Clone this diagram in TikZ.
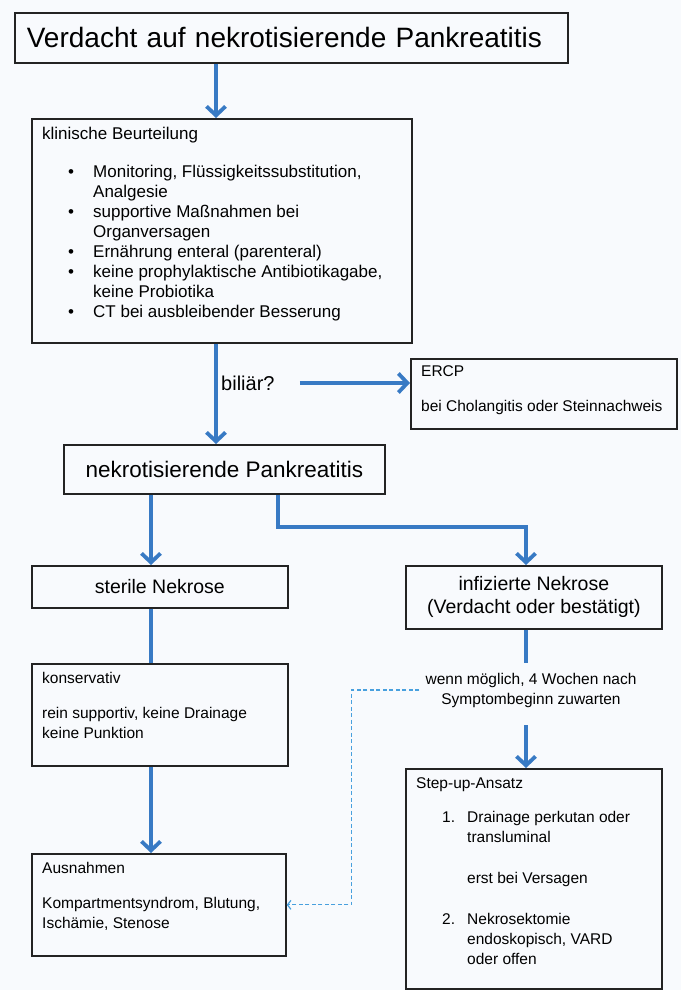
\documentclass[tikz,border=0pt]{standalone}
\usepackage{fontspec}
\setmainfont{Liberation Sans}
\usepackage{tikz}
\usetikzlibrary{arrows.meta,positioning}

\definecolor{arrblue}{RGB}{56,122,196}
\definecolor{dashblue}{RGB}{72,160,222}
\definecolor{boxgray}{RGB}{35,35,35}
\definecolor{bg}{RGB}{248,250,253}

\newcommand{\bulitem}{\makebox[51pt][l]{\hspace{26pt}\textbullet}}
\newcommand{\bulcont}{\makebox[51pt]{}}
\newcommand{\numitem}[1]{\makebox[51pt][l]{\hspace{26pt}#1}}

\begin{document}
\begin{tikzpicture}[x=1pt,y=-1pt,
  >={Straight Barb[length=9pt,width=19pt]},
  box/.style={draw=boxgray,line width=1.7pt,fill=bg,inner sep=0pt,anchor=north west},
  txt/.style={inner sep=0pt,align=left,anchor=north west,font=\fontsize{15.5}{20}\selectfont},
  arr/.style={->,draw=arrblue,line width=3.8pt},
  plain/.style={draw=arrblue,line width=3.8pt},
  dasharr/.style={-{Straight Barb[length=3.5pt,width=9pt]},draw=dashblue,line width=1.2pt,dash pattern=on 4pt off 2.5pt}]
\fill[bg] (0,0) rectangle (681,990);
\useasboundingbox (0,0) rectangle (681,990);

\node (verdacht) [box,text width=529pt,inner xsep=12pt,minimum height=50pt,align=left,font=\fontsize{28}{32}\selectfont] at (14,12) {Verdacht auf nekrotisierende Pankreatitis};

\node (klinik) [box,minimum width=380pt,minimum height=224pt] at (31,118) {};
\node (klinik-txt) [txt,font=\fontsize{17}{20}\selectfont] at (42,127) {klinische Beurteilung\\[18pt]
  \bulitem Monitoring, Flüssigkeitssubstitution,\\ \bulcont Analgesie\\
  \bulitem supportive Maßnahmen bei\\ \bulcont Organversagen\\
  \bulitem Ernährung enteral (parenteral)\\
  \bulitem keine prophylaktische Antibiotikagabe,\\ \bulcont keine Probiotika\\
  \bulitem CT bei ausbleibender Besserung};

\node (biliaer) [txt,anchor=west,font=\fontsize{20}{24}\selectfont] at (221,383) {biliär?};
\node (ercp) [box,minimum width=266pt,minimum height=70pt] at (410,358) {};
\node (ercp-txt) [txt] at (421,365) {ERCP\\[15pt] bei Cholangitis oder Steinnachweis};

\node (nekrot) [box,minimum width=321pt,minimum height=49pt,font=\fontsize{22.5}{26}\selectfont] at (63,444) {nekrotisierende Pankreatitis};

\node (sterile) [box,minimum width=256pt,minimum height=42pt,font=\fontsize{19.5}{23}\selectfont] at (31,565) {sterile Nekrose};
\node (infiz) [box,minimum width=256pt,minimum height=63pt,align=center,font=\fontsize{19.5}{23}\selectfont] at (405,565) {infizierte Nekrose\\(Verdacht oder bestätigt)};

\node (konserv) [box,minimum width=256pt,minimum height=102pt] at (31,663) {};
\node (konserv-txt) [txt] at (42,672) {konservativ\\[15pt] rein supportiv, keine Drainage\\ keine Punktion};

\node (ausnahmen) [box,minimum width=254pt,minimum height=102pt] at (31,853) {};
\node (ausnahmen-txt) [txt] at (42,862) {Ausnahmen\\[15pt] Kompartmentsyndrom, Blutung,\\ Ischämie, Stenose};

\node (warten) [txt,anchor=center,align=center,inner xsep=6pt,inner ysep=10pt] at (531,690) {wenn möglich, 4 Wochen nach\\Symptombeginn zuwarten};

\node (stepup) [box,minimum width=256pt,minimum height=220pt] at (405,768) {};
\node (stepup-txt) [txt] at (416,777) {Step-up-Ansatz\\[14pt]
  \numitem{1.}Drainage perkutan oder\\ \bulcont transluminal\\[21pt]
  \bulcont erst bei Versagen\\[21pt]
  \numitem{2.}Nekrosektomie\\ \bulcont endoskopisch, VARD\\ \bulcont oder offen};

\coordinate (spine) at (216,0);
\coordinate (leftx) at (151,0);
\coordinate (rightx) at (526,0);

\draw[arr] (verdacht.south -| spine) -- (klinik.north -| spine);
\draw[arr] (klinik.south -| spine) -- (nekrot.north -| spine);
\draw[arr,shorten <=25pt] (biliaer.east) -- (biliaer.east -| ercp.west);
\draw[arr] (nekrot.south -| leftx) -- (sterile.north -| leftx);
\draw[arr] ([xshift=54pt]nekrot.south) -- ++(0,32) -| (infiz.north -| rightx);
\draw[plain] (sterile.south -| leftx) -- (konserv.north -| leftx);
\draw[arr] (konserv.south -| leftx) -- (ausnahmen.north -| leftx);
\draw[plain] (infiz.south -| rightx) -- (warten.north -| rightx);
\draw[arr,shorten <=8pt] (warten.south -| rightx) -- (stepup.north -| rightx);
\draw[dasharr] (warten.west) -- ++(-68,0) |- (ausnahmen.east);
\end{tikzpicture}
\end{document}
